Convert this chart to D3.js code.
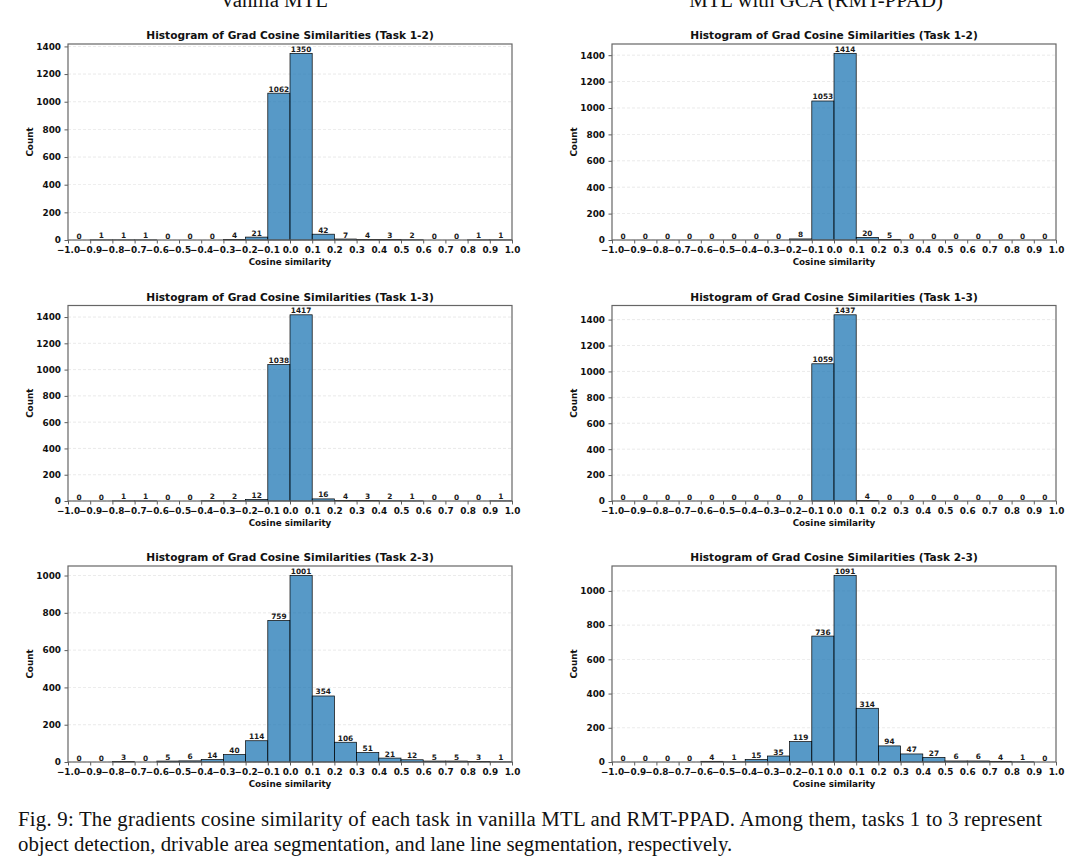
<!DOCTYPE html>
<html>
<head>
<meta charset="utf-8">
<script src="https://cdn.jsdelivr.net/npm/d3@7"></script>
<style>
  body { margin: 0; background: #fff; }
  svg { display: block; }
</style>
</head>
<body>
<svg id="fig" width="1080" height="863"></svg>
<script>
// ─── Data ───
const binEdges = [-1.0, -0.9, -0.8, -0.7, -0.6, -0.5, -0.4, -0.3, -0.2, -0.1, 0.0,
  0.1, 0.2, 0.3, 0.4, 0.5, 0.6, 0.7, 0.8, 0.9, 1.0];

const vanilla12 = [0, 1, 1, 1, 0, 0, 0, 4, 21, 1062, 1350, 42, 7, 4, 3, 2, 0, 0, 1, 1];
const gca12 = [0, 0, 0, 0, 0, 0, 0, 0, 8, 1053, 1414, 20, 5, 0, 0, 0, 0, 0, 0, 0];
const vanilla13 = [0, 0, 1, 1, 0, 0, 2, 2, 12, 1038, 1417, 16, 4, 3, 2, 1, 0, 0, 0, 1];
const gca13 = [0, 0, 0, 0, 0, 0, 0, 0, 0, 1059, 1437, 4, 0, 0, 0, 0, 0, 0, 0, 0];
const vanilla23 = [0, 0, 3, 0, 5, 6, 14, 40, 114, 759, 1001, 354, 106, 51, 21, 12, 5, 5, 3, 1];
const gca23 = [0, 0, 0, 0, 4, 1, 15, 35, 119, 736, 1091, 314, 94, 47, 27, 6, 6, 4, 1, 0];

const yTicksTall = [0, 200, 400, 600, 800, 1000, 1200, 1400];
const yTicksShort = [0, 200, 400, 600, 800, 1000];

const columnTitles = ["Vanilla MTL", "MTL with GCA (RMT-PPAD)"];
const taskTitles = [
  "Histogram of Grad Cosine Similarities (Task 1-2)",
  "Histogram of Grad Cosine Similarities (Task 1-3)",
  "Histogram of Grad Cosine Similarities (Task 2-3)",
];
const xLabel = "Cosine similarity";
const yLabel = "Count";
const captionLines = [
  "Fig. 9: The gradients cosine similarity of each task in vanilla MTL and RMT-PPAD. Among them, tasks 1 to 3 represent",
  "object detection, drivable area segmentation, and lane line segmentation, respectively.",
];

const panels = [
  { col: 0, row: 0, counts: vanilla12, ticks: yTicksTall },
  { col: 1, row: 0, counts: gca12, ticks: yTicksTall },
  { col: 0, row: 1, counts: vanilla13, ticks: yTicksTall },
  { col: 1, row: 1, counts: gca13, ticks: yTicksTall },
  { col: 0, row: 2, counts: vanilla23, ticks: yTicksShort },
  { col: 1, row: 2, counts: gca23, ticks: yTicksShort },
];

// ─── Layout ───
const COL_X = [68, 612];
const PLOT_W = 444;
const ROW_TOP = [44, 305.5, 566];
const ROW_BOT = [240, 501, 762];
const FONT = "'DejaVu Sans', sans-serif";
const SERIF = "'Liberation Serif', 'Times New Roman', serif";
const BAR_FILL = "#1f77b4";

const svg = d3.select("#fig");

// column headers (cut at the top edge as in the source figure)
const headerX = [274, 816];
columnTitles.forEach((t, i) => {
  svg.append("text")
    .attr("x", headerX[i])
    .attr("y", 7)
    .attr("text-anchor", "middle")
    .style("font-family", SERIF)
    .style("font-size", "20.8px")
    .style("fill", "#111")
    .text(t);
});

panels.forEach((p) => {
  const x0 = COL_X[p.col];
  const top = ROW_TOP[p.row];
  const bot = ROW_BOT[p.row];
  const h = bot - top;

  const x = d3.scaleLinear().domain([-1, 1]).range([0, PLOT_W]);
  const y = d3.scaleLinear().domain([0, d3.max(p.counts) * 1.05]).range([h, 0]);

  const g = svg.append("g").attr("transform", `translate(${x0},${top})`);

  // grid
  g.selectAll("line.grid")
    .data(p.ticks)
    .join("line")
    .attr("class", "grid")
    .attr("x1", 0)
    .attr("x2", PLOT_W)
    .attr("y1", (d) => y(d))
    .attr("y2", (d) => y(d))
    .attr("stroke", "#cfcfcf")
    .attr("stroke-width", 0.6)
    .attr("stroke-dasharray", "3,2")
    .attr("opacity", 0.7);

  const bins = p.counts.map((c, i) => ({ lo: binEdges[i], hi: binEdges[i + 1], c }));

  // bars
  g.selectAll("rect.bar")
    .data(bins.filter((d) => d.c > 0))
    .join("rect")
    .attr("class", "bar")
    .attr("x", (d) => x(d.lo))
    .attr("width", (d) => x(d.hi) - x(d.lo))
    .attr("y", (d) => y(d.c))
    .attr("height", (d) => h - y(d.c))
    .attr("fill", BAR_FILL)
    .attr("fill-opacity", 0.75)
    .attr("stroke", "#000")
    .attr("stroke-width", 0.7);

  // count labels
  g.selectAll("text.count")
    .data(bins)
    .join("text")
    .attr("class", "count")
    .attr("x", (d) => x((d.lo + d.hi) / 2))
    .attr("y", (d) => y(d.c) - 1.5)
    .attr("text-anchor", "middle")
    .style("font-family", FONT)
    .style("font-weight", "bold")
    .style("font-size", "7.4px")
    .style("fill", "#1a1a1a")
    .text((d) => d.c);

  // axes
  const xAxis = g.append("g")
    .attr("transform", `translate(0,${h})`)
    .call(d3.axisBottom(x).tickValues(binEdges).tickFormat(d3.format(".1f"))
      .tickSize(3.5).tickPadding(3));
  const yAxis = g.append("g")
    .call(d3.axisLeft(y).tickValues(p.ticks).tickFormat(d3.format("d"))
      .tickSize(3.5).tickPadding(3.5));

  [xAxis, yAxis].forEach((a) => {
    a.select(".domain").remove();
    a.selectAll(".tick line").attr("stroke", "#333").attr("stroke-width", 0.8);
    a.selectAll(".tick text")
      .style("font-family", FONT)
      .style("font-weight", "bold")
      .style("font-size", "8.9px")
      .style("fill", "#111");
  });

  // frame
  g.append("rect")
    .attr("width", PLOT_W)
    .attr("height", h)
    .attr("fill", "none")
    .attr("stroke", "#666")
    .attr("stroke-width", 1.2);

  // title
  g.append("text")
    .attr("x", PLOT_W / 2)
    .attr("y", -5)
    .attr("text-anchor", "middle")
    .style("font-family", FONT)
    .style("font-weight", "bold")
    .style("font-size", "10.6px")
    .style("fill", "#111")
    .text(taskTitles[p.row]);

  // axis labels
  g.append("text")
    .attr("x", PLOT_W / 2)
    .attr("y", h + 25)
    .attr("text-anchor", "middle")
    .style("font-family", FONT)
    .style("font-weight", "bold")
    .style("font-size", "8.8px")
    .style("fill", "#111")
    .text(xLabel);

  g.append("text")
    .attr("transform", `translate(${-35},${h / 2}) rotate(-90)`)
    .attr("text-anchor", "middle")
    .style("font-family", FONT)
    .style("font-weight", "bold")
    .style("font-size", "8.8px")
    .style("fill", "#111")
    .text(yLabel);
});

// ─── Caption ───
const cap = svg.append("g")
  .style("font-family", SERIF)
  .style("font-size", "20.8px")
  .style("fill", "#111");

cap.append("text")
  .attr("x", 18)
  .attr("y", 826)
  .attr("textLength", 1024)
  .attr("lengthAdjust", "spacing")
  .text(captionLines[0]);

cap.append("text")
  .attr("x", 18)
  .attr("y", 851)
  .text(captionLines[1]);
</script>
</body>
</html>
